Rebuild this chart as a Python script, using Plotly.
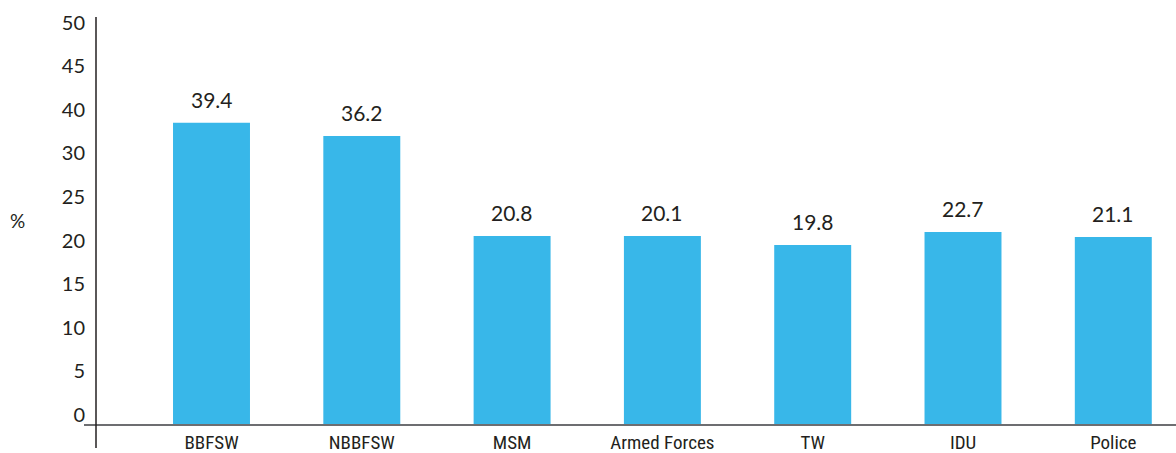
import plotly.graph_objects as go

categories = ["BBFSW", "NBBFSW", "MSM", "Armed Forces", "TW", "IDU", "Police"]
# bar heights as drawn in the picture (axis units)
bar_heights = [34.67, 33.14, 21.67, 21.67, 20.64, 22.13, 21.56]
# value labels printed above bars
value_labels = ["39.4", "36.2", "20.8", "20.1", "19.8", "22.7", "21.1"]
tick_values = [0, 5, 10, 15, 20, 25, 30, 35, 40, 45]
tick_labels = ["0", "5", "10", "15", "20", "25", "30", "40", "45", "50"]

W, H = 1176, 453
ml, mr, mt, mb = 96, 0, 17, 28
pw, ph = W - ml - mr, H - mt - mb

fig = go.Figure()
fig.add_trace(go.Bar(
    x=list(range(len(categories))), y=bar_heights,
    marker=dict(color="#38B7E9", line=dict(width=0)),
    hoverinfo="skip",
))

for i, (h, t) in enumerate(zip(bar_heights, value_labels)):
    fig.add_annotation(x=i, y=h, xref="x", yref="y", text=t, showarrow=False,
                       yanchor="middle", xanchor="center", yshift=23.5,
                       font=dict(family="Lato, Open Sans, sans-serif", size=21, color="#231F20"))

fig.add_annotation(x=(17 - ml) / pw, y=(425 - 220) / ph, xref="paper", yref="paper",
                   text="%", showarrow=False, xanchor="center", yanchor="middle",
                   font=dict(family="Lato, Open Sans, sans-serif", size=19, color="#231F20"))

# axis line extensions (cross at origin)
fig.add_shape(type="line", xref="paper", yref="paper", x0=(84 - ml) / pw, x1=1, y0=0, y1=0,
              line=dict(color="#6D6E71", width=2), layer="above")
fig.add_shape(type="line", xref="paper", yref="paper", x0=0, x1=0, y0=-(448 - 425) / ph, y1=1,
              line=dict(color="#231F20", width=1.5), layer="above")

x0 = -(211.5 - ml) / 150.3
fig.update_layout(
    width=W, height=H,
    margin=dict(l=ml, r=mr, t=mt, b=mb, pad=0),
    paper_bgcolor="white", plot_bgcolor="white",
    showlegend=False,
    bargap=0.488,
    xaxis=dict(
        range=[x0, x0 + pw / 150.3],
        tickmode="array", tickvals=list(range(len(categories))), ticktext=categories,
        showline=False, showgrid=False, zeroline=False, ticks="",
        ticklabelstandoff=4,
        tickfont=dict(family="Liberation Sans Narrow, Arial Narrow, Roboto Condensed, sans-serif",
                      size=19, color="#231F20"),
        fixedrange=True,
    ),
    yaxis=dict(
        range=[0, ph / 8.72],
        tickmode="array", tickvals=tick_values, ticktext=tick_labels,
        showline=False, showgrid=False, zeroline=False, ticks="",
        ticklabelshift=-10, ticklabelstandoff=10,
        tickfont=dict(family="Lato, Open Sans, sans-serif", size=20, color="#231F20"),
        fixedrange=True,
    ),
)

fig.write_html("out.html", config={"displayModeBar": False},
               post_script="document.body.style.margin='0';document.body.style.overflow='hidden';")
